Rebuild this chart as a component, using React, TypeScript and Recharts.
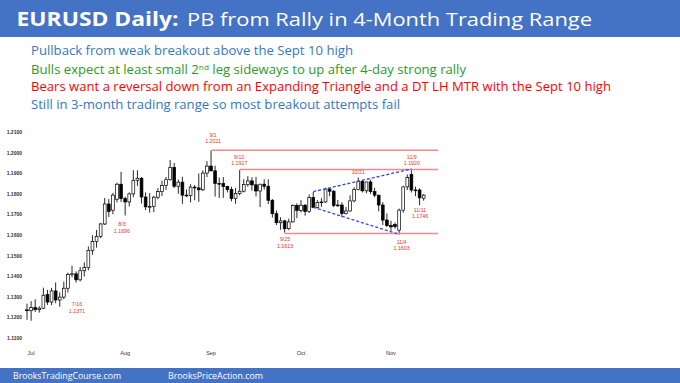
import React from 'react';
import { ComposedChart, Bar, XAxis, YAxis, Scatter, ReferenceLine } from 'recharts';

// Daily candles, Jun 30 .. Nov 12
const opens = [
  1.1238, 1.1234, 1.1249, 1.1239, 1.1246, 1.1312, 1.1276, 1.1330, 1.1286, 1.1300,
  1.1343, 1.1410, 1.1413, 1.1384, 1.1428, 1.1443, 1.1527, 1.1570, 1.1595, 1.1655,
  1.1752, 1.1722, 1.1775, 1.1848, 1.1778, 1.1762, 1.1801, 1.1867, 1.1877, 1.1786,
  1.1738, 1.1740, 1.1785, 1.1812, 1.1842, 1.1870, 1.1930, 1.1838, 1.1858, 1.1795,
  1.1793, 1.1834, 1.1830, 1.1821, 1.1902, 1.1936, 1.1913, 1.1852, 1.1851, 1.1837,
  1.1822, 1.1778, 1.1803, 1.1814, 1.1846, 1.1864, 1.1845, 1.1815, 1.1848, 1.1838,
  1.1770, 1.1705, 1.1661, 1.1670, 1.1632, 1.1665, 1.1745, 1.1721, 1.1746, 1.1715,
  1.1783, 1.1735, 1.1760, 1.1762, 1.1825, 1.1814, 1.1744, 1.1747, 1.1706, 1.1718,
  1.1767, 1.1822, 1.1862, 1.1816, 1.1859, 1.1812, 1.1795, 1.1747, 1.1674, 1.1647,
  1.1652, 1.1625, 1.1722, 1.1835, 1.1895, 1.1820, 1.1820, 1.1780,
];
const highs = [
  1.1268, 1.1280, 1.1290, 1.1255, 1.1346, 1.1335, 1.1345, 1.1371, 1.1323, 1.1375,
  1.1419, 1.1452, 1.1425, 1.1446, 1.1468, 1.1546, 1.1601, 1.1626, 1.1660, 1.1781,
  1.1776, 1.1806, 1.1855, 1.1908, 1.1788, 1.1808, 1.1916, 1.1916, 1.1883, 1.1808,
  1.1805, 1.1792, 1.1829, 1.1865, 1.1883, 1.1966, 1.1951, 1.1871, 1.1884, 1.1822,
  1.1848, 1.1844, 1.1900, 1.1915, 1.1960, 1.2011, 1.1938, 1.1880, 1.1883, 1.1840,
  1.1836, 1.1830, 1.1917, 1.1872, 1.1887, 1.1882, 1.1883, 1.1850, 1.1872, 1.1872,
  1.1776, 1.1720, 1.1688, 1.1675, 1.1681, 1.1750, 1.1755, 1.1771, 1.1752, 1.1798,
  1.1810, 1.1771, 1.1780, 1.1831, 1.1829, 1.1820, 1.1772, 1.1760, 1.1737, 1.1794,
  1.1833, 1.1880, 1.1870, 1.1860, 1.1870, 1.1830, 1.1796, 1.1761, 1.1706, 1.1670,
  1.1662, 1.1730, 1.1840, 1.1895, 1.1920, 1.1836, 1.1828, 1.1800,
];
const lows = [
  1.1190, 1.1185, 1.1228, 1.1225, 1.1242, 1.1262, 1.1261, 1.1270, 1.1253, 1.1290,
  1.1322, 1.1396, 1.1371, 1.1376, 1.1400, 1.1430, 1.1505, 1.1540, 1.1586, 1.1650,
  1.1689, 1.1702, 1.1760, 1.1762, 1.1696, 1.1740, 1.1785, 1.1840, 1.1754, 1.1722,
  1.1710, 1.1712, 1.1775, 1.1790, 1.1820, 1.1865, 1.1830, 1.1802, 1.1753, 1.1786,
  1.1760, 1.1770, 1.1762, 1.1815, 1.1883, 1.1910, 1.1788, 1.1781, 1.1782, 1.1808,
  1.1765, 1.1753, 1.1794, 1.1808, 1.1836, 1.1817, 1.1789, 1.1737, 1.1822, 1.1752,
  1.1686, 1.1650, 1.1627, 1.1613, 1.1625, 1.1662, 1.1683, 1.1711, 1.1695, 1.1709,
  1.1732, 1.1730, 1.1738, 1.1758, 1.1790, 1.1737, 1.1738, 1.1689, 1.1701, 1.1715,
  1.1760, 1.1818, 1.1808, 1.1804, 1.1801, 1.1785, 1.1717, 1.1650, 1.1640, 1.1622,
  1.1632, 1.1603, 1.1710, 1.1820, 1.1808, 1.1790, 1.1746, 1.1768,
];
const closes = [
  1.1234, 1.1249, 1.1239, 1.1246, 1.1309, 1.1276, 1.1330, 1.1286, 1.1300, 1.1343,
  1.1410, 1.1413, 1.1384, 1.1428, 1.1443, 1.1527, 1.1570, 1.1595, 1.1655, 1.1752,
  1.1716, 1.1795, 1.1848, 1.1778, 1.1762, 1.1801, 1.1867, 1.1877, 1.1786, 1.1738,
  1.1740, 1.1785, 1.1812, 1.1842, 1.1870, 1.1930, 1.1838, 1.1858, 1.1795, 1.1793,
  1.1834, 1.1830, 1.1821, 1.1902, 1.1936, 1.1913, 1.1852, 1.1851, 1.1837, 1.1822,
  1.1778, 1.1803, 1.1814, 1.1846, 1.1864, 1.1845, 1.1815, 1.1848, 1.1838, 1.1770,
  1.1705, 1.1661, 1.1670, 1.1632, 1.1665, 1.1745, 1.1721, 1.1746, 1.1715, 1.1783,
  1.1735, 1.1760, 1.1762, 1.1825, 1.1814, 1.1744, 1.1747, 1.1706, 1.1718, 1.1767,
  1.1822, 1.1862, 1.1816, 1.1859, 1.1812, 1.1795, 1.1747, 1.1674, 1.1647, 1.1641,
  1.1642, 1.1722, 1.1835, 1.1880, 1.1820, 1.1818, 1.1782, 1.1795,
];

const monthTickIdx = [1, 24, 45, 67, 89];
const monthLabels = ['Jul', 'Aug', 'Sep', 'Oct', 'Nov'];
const priceTicks = [1.11, 1.12, 1.13, 1.14, 1.15, 1.16, 1.17, 1.18, 1.19, 1.2, 1.21];

// annotations (date label, price label, anchored in data units)
const annDates = ['7/16', '8/3', '9/1', '9/10', '9/25', '10/21', '11/4', '11/9', '11/11'];
const annValues = ['1.1371', '1.1696', '1.2011', '1.1917', '1.1613', '', '1.1603', '1.1920', '1.1746'];
const annIdx = [12.2, 23.2, 45.5, 51.9, 63.1, 81, 91.6, 94.1, 96.1];
const annPrice = [1.1265, 1.1653, 1.2087, 1.1982, 1.1581, 1.1906, 1.1569, 1.1982, 1.1723];

// support / resistance lines
const hLineFrom = [45, 52, 63];
const hLinePrice = [1.2013, 1.1919, 1.1609];
const hLineTo = 100.5;
// expanding triangle
const triUpper = [[70, 1.1812], [94, 1.1922]];
const triLower = [[70, 1.1736], [91, 1.1605]];

const data = opens.map((o, i) => ({
  idx: i,
  open: o,
  high: highs[i],
  low: lows[i],
  close: closes[i],
  range: [lows[i], highs[i]],
}));

const annData = annDates.map((d, i) => ({ idx: annIdx[i], price: annPrice[i], date: d, value: annValues[i] }));

const Candle = (props: any) => {
  const { x, y, width, height, payload } = props;
  const top = Math.min(y, y + height);
  const bot = Math.max(y, y + height);
  const { open, close, high, low } = payload;
  const cx = x + width / 2;
  const k = high - low > 0 ? (bot - top) / (high - low) : 0;
  const yO = top + (high - open) * k;
  const yC = top + (high - close) * k;
  const bTop = Math.min(yO, yC);
  const bH = Math.max(Math.abs(yC - yO), 0.8);
  const up = close >= open;
  return (
    <g>
      <line x1={cx} x2={cx} y1={top} y2={bot} stroke="#111" strokeWidth={0.9} />
      <rect x={cx - 1.4} y={bTop} width={2.8} height={bH} fill={up ? '#fff' : '#000'} stroke="#000" strokeWidth={0.7} />
    </g>
  );
};

const AnnLabel = (props: any) => {
  const { cx, cy, payload } = props;
  const st = { fontSize: 5.3, fill: '#f03030', fontFamily: 'Liberation Sans, Arial, sans-serif' };
  return (
    <g>
      <text x={cx} y={cy} textAnchor="middle" dominantBaseline="central" {...st}>{payload.date}</text>
      {payload.value ? (
        <text x={cx} y={cy + 6.5} textAnchor="middle" dominantBaseline="central" {...st}>{payload.value}</text>
      ) : null}
    </g>
  );
};

const BLUE = '#4472C4';
const font = 'Open Sans, Liberation Sans, Arial, sans-serif';

export default function App() {
  return (
    <div style={{ position: 'absolute', left: 0, top: 0, width: 680, height: 383, background: '#fff', overflow: 'hidden' }}>
      <svg width={680} height={383} style={{ position: 'absolute', left: 0, top: 0 }}>
        <rect x={0} y={0} width={680} height={37} fill={BLUE} />
        <rect x={0} y={368} width={680} height={15} fill={BLUE} />
        <text x={16.5} y={26} fontFamily={font} fontSize={19} fontWeight="bold" fill="#fff" textLength={162} lengthAdjust="spacingAndGlyphs">EURUSD Daily:</text>
        <text x={187} y={26} fontFamily={font} fontSize={19} fill="#fff" textLength={405} lengthAdjust="spacingAndGlyphs">PB from Rally in 4-Month Trading Range</text>
        <text x={31} y={55} fontFamily={font} fontSize={12} fill="#2f78c6" textLength={322} lengthAdjust="spacingAndGlyphs">Pullback from weak breakout above the Sept 10 high</text>
        <text x={31} y={73.5} fontFamily={font} fontSize={12} fill="#2a9a2a" textLength={435} lengthAdjust="spacingAndGlyphs">
          Bulls expect at least small 2<tspan fontSize={7.5} dy={-4}>nd</tspan><tspan dy={4}> leg sideways to up after 4-day strong rally</tspan>
        </text>
        <text x={31} y={91} fontFamily={font} fontSize={12} fill="#ff0000" textLength={580} lengthAdjust="spacingAndGlyphs">Bears want a reversal down from an Expanding Triangle and a DT LH MTR with the Sept 10 high</text>
        <text x={31} y={109} fontFamily={font} fontSize={12} fill="#2f78c6" textLength={369} lengthAdjust="spacingAndGlyphs">Still in 3-month trading range so most breakout attempts fail</text>
        <text x={13} y={379} fontFamily={font} fontSize={9.5} fill="#fff" textLength={108} lengthAdjust="spacingAndGlyphs">BrooksTradingCourse.com</text>
        <text x={168} y={379} fontFamily={font} fontSize={9.5} fill="#fff" textLength={95} lengthAdjust="spacingAndGlyphs">BrooksPriceAction.com</text>
      </svg>
      <div style={{ position: 'absolute', left: 0, top: 0 }}>
        <ComposedChart width={680} height={383} data={data} margin={{ top: 132.3, right: 242, bottom: 24.7, left: 0 }}>
          <XAxis
            dataKey="idx"
            type="number"
            domain={[-0.5, 100.5]}
            ticks={monthTickIdx}
            tickFormatter={(v: number) => monthLabels[monthTickIdx.indexOf(v)] || ''}
            axisLine={false}
            tickLine={false}
            tickSize={0}
            tickMargin={13}
            height={20}
            interval={0}
            tick={{ fontSize: 5.5, fill: '#333', fontFamily: 'Liberation Sans, Arial' }}
            allowDataOverflow
          />
          <YAxis
            type="number"
            domain={[1.11, 1.21]}
            ticks={priceTicks}
            tickFormatter={(v: number) => v.toFixed(4)}
            axisLine={false}
            tickLine={false}
            tickSize={0}
            tickMargin={3}
            width={25}
            interval={0}
            tick={{ fontSize: 5, fill: '#333', fontWeight: 'bold', fontFamily: 'Liberation Sans, Arial' }}
            allowDataOverflow
          />
          {hLinePrice.map((p, i) => (
            <ReferenceLine
              key={'h' + i}
              segment={[{ x: hLineFrom[i], y: p }, { x: hLineTo, y: p }]}
              stroke="#f08a8a"
              strokeWidth={1.5}
              ifOverflow="visible"
            />
          ))}
          <ReferenceLine
            segment={[{ x: triUpper[0][0], y: triUpper[0][1] }, { x: triUpper[1][0], y: triUpper[1][1] }]}
            stroke="#3344ee"
            strokeWidth={1.3}
            strokeDasharray="3 2"
            ifOverflow="visible"
          />
          <ReferenceLine
            segment={[{ x: triLower[0][0], y: triLower[0][1] }, { x: triLower[1][0], y: triLower[1][1] }]}
            stroke="#3344ee"
            strokeWidth={1.3}
            strokeDasharray="3 2"
            ifOverflow="visible"
          />
          <Bar dataKey="range" barSize={4} shape={Candle} isAnimationActive={false} />
          <Scatter data={annData} dataKey="price" shape={AnnLabel} isAnimationActive={false} />
        </ComposedChart>
      </div>
    </div>
  );
}
